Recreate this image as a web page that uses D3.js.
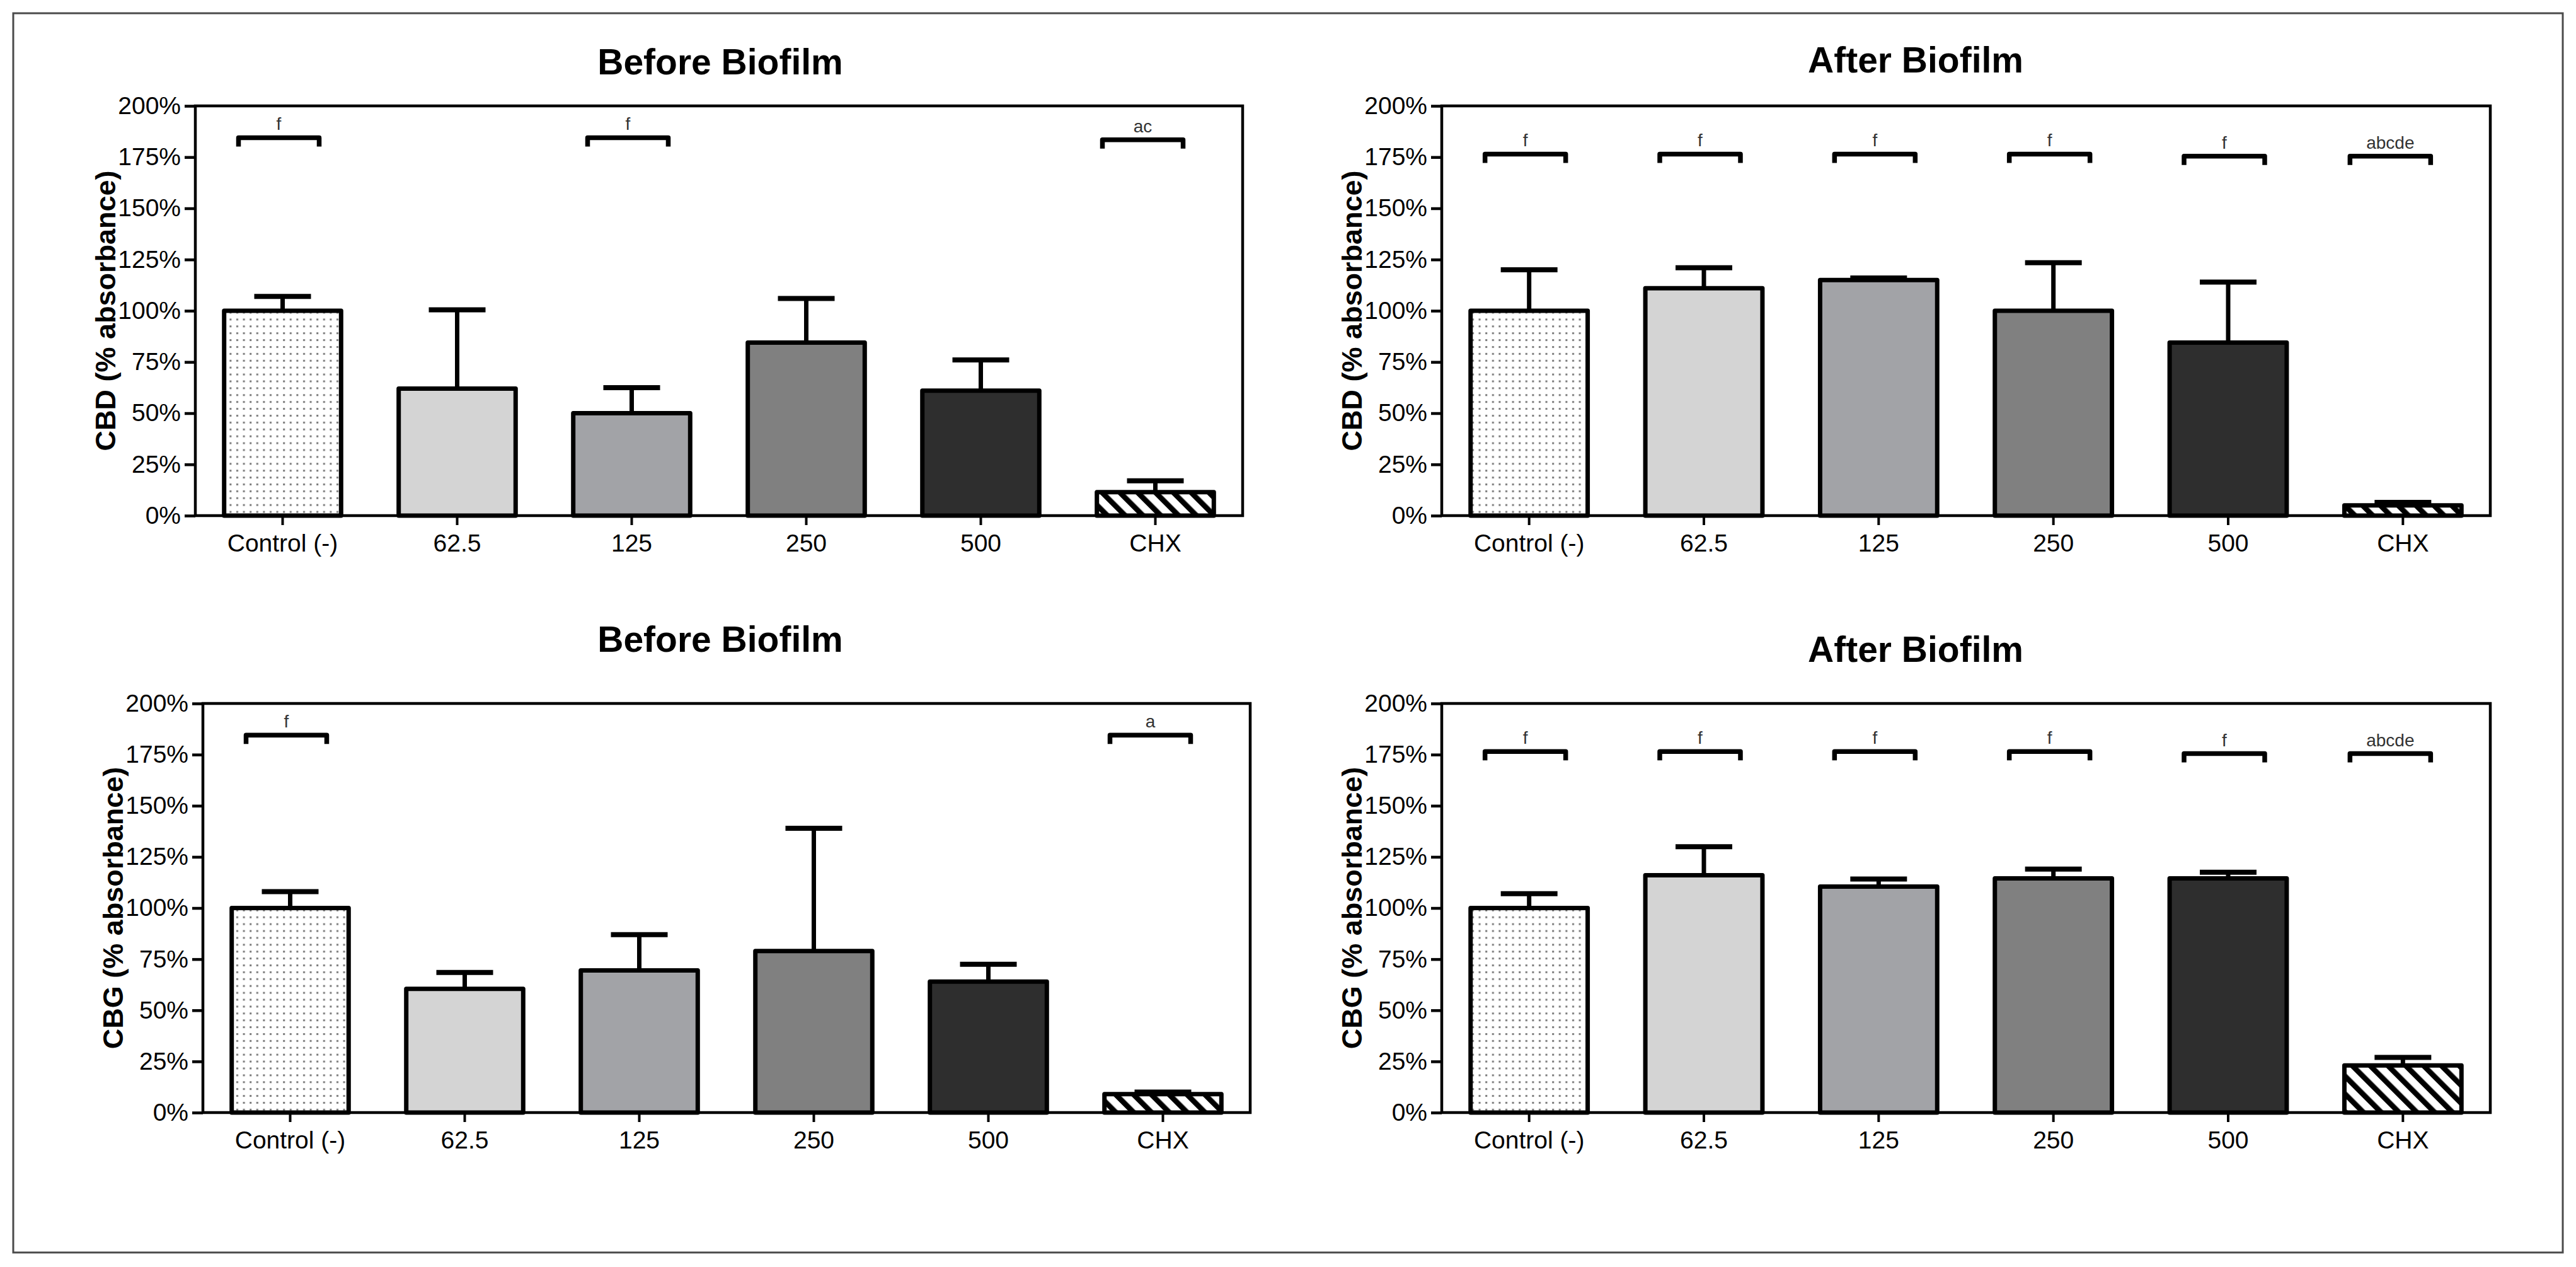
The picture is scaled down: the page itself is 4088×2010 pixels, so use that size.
<!DOCTYPE html>
<html>
<head>
<meta charset="utf-8">
<script src="https://cdn.jsdelivr.net/npm/d3@7"></script>
<style>
  html, body { margin: 0; padding: 0; background: #ffffff; }
  svg { display: block; }
  text { font-family: "Liberation Sans", Arial, Helvetica, sans-serif; }
</style>
</head>
<body>
<svg id="chart" width="4088" height="2010"></svg>
<script>
// ---------------- DATA ----------------
const categories = ["Control (-)", "62.5", "125", "250", "500", "CHX"];
const yTicks = [0, 25, 50, 75, 100, 125, 150, 175, 200];

const cbdBeforeMean = [100, 62, 50, 84.5, 61, 11.5];
const cbdBeforeSd   = [7, 38.5, 12.5, 21.5, 15, 5.5];

const cbdAfterMean  = [100, 111, 115, 100, 84.5, 5];
const cbdAfterSd    = [20, 10, 1, 23.5, 29.5, 1.5];

const cbgBeforeMean = [100, 60.5, 69.5, 79, 64, 9];
const cbgBeforeSd   = [8, 8, 17.5, 60, 8.5, 1];

const cbgAfterMean  = [100, 116, 110.5, 114.5, 114.5, 23];
const cbgAfterSd    = [7, 14, 3.7, 4.5, 3, 4];

// significance annotations: category, letters, bracket level (%)
const cbdBeforeSig = [["Control (-)", "f", 184.5], ["125", "f", 184.5], ["CHX", "ac", 183.5]];
const cbdAfterSig  = [["Control (-)", "f", 176.5], ["62.5", "f", 176.5], ["125", "f", 176.5],
                      ["250", "f", 176.5], ["500", "f", 175.5], ["CHX", "abcde", 175.5]];
const cbgBeforeSig = [["Control (-)", "f", 184.5], ["CHX", "a", 184.5]];
const cbgAfterSig  = [["Control (-)", "f", 176.5], ["62.5", "f", 176.5], ["125", "f", 176.5],
                      ["250", "f", 176.5], ["500", "f", 175.5], ["CHX", "abcde", 175.5]];

const titles = ["Before Biofilm", "After Biofilm", "Before Biofilm", "After Biofilm"];
const yLabels = ["CBD (% absorbance)", "CBD (% absorbance)", "CBG (% absorbance)", "CBG (% absorbance)"];

// ---------------- LAYOUT ----------------
const panels = [
  { mean: cbdBeforeMean, sd: cbdBeforeSd, sig: cbdBeforeSig, left: 310,  right: 1972, top: 168,  bottom: 818,  tx: 1143, ty: 118 },
  { mean: cbdAfterMean,  sd: cbdAfterSd,  sig: cbdAfterSig,  left: 2288, right: 3952, top: 168,  bottom: 818,  tx: 3040, ty: 115 },
  { mean: cbgBeforeMean, sd: cbgBeforeSd, sig: cbgBeforeSig, left: 322,  right: 1984, top: 1116, bottom: 1765, tx: 1143, ty: 1034 },
  { mean: cbgAfterMean,  sd: cbgAfterSd,  sig: cbgAfterSig,  left: 2288, right: 3952, top: 1116, bottom: 1765, tx: 3040, ty: 1050 }
];

const fills = ["url(#dots)", "#d4d4d4", "#a2a3a7", "#808080", "#2e2e2e", "url(#hatch)"];

const svg = d3.select("#chart");

// patterns
const defs = svg.append("defs");
const dots = defs.append("pattern").attr("id", "dots")
  .attr("patternUnits", "userSpaceOnUse").attr("width", 10.6).attr("height", 10.9);
dots.append("rect").attr("width", 10.6).attr("height", 10.9).attr("fill", "#ffffff");
dots.append("rect").attr("x", 4).attr("y", 4).attr("width", 3).attr("height", 3).attr("fill", "#7a7a7a");

const hatch = defs.append("pattern").attr("id", "hatch")
  .attr("patternUnits", "userSpaceOnUse").attr("width", 20).attr("height", 20)
  .attr("patternTransform", "rotate(-45)");
hatch.append("rect").attr("width", 20).attr("height", 20).attr("fill", "#ffffff");
hatch.append("rect").attr("x", 0).attr("width", 8.5).attr("height", 20).attr("fill", "#000000");

// outer border
svg.append("rect").attr("x", 21).attr("y", 21).attr("width", 4046).attr("height", 1966)
  .attr("fill", "none").attr("stroke", "#4a4a4a").attr("stroke-width", 3);

panels.forEach((p, pi) => {
  const g = svg.append("g");
  const x = d3.scaleBand().domain(categories).range([p.left, p.right])
    .paddingInner(0.33).paddingOuter(0.165);
  const y = d3.scaleLinear().domain([0, 200]).range([p.bottom, p.top]);

  // title
  g.append("text").attr("x", p.tx).attr("y", p.ty).attr("text-anchor", "middle")
    .attr("font-size", 57).attr("font-weight", "bold").attr("fill", "#000").text(titles[pi]);

  // y label
  g.append("text")
    .attr("transform", `translate(${p.left - 127},${(p.top + p.bottom) / 2}) rotate(-90)`)
    .attr("text-anchor", "middle").attr("font-size", 45).attr("font-weight", "bold")
    .attr("fill", "#000").text(yLabels[pi]);

  // bars
  g.selectAll("rect.bar").data(categories).enter().append("rect").attr("class", "bar")
    .attr("x", d => x(d)).attr("width", x.bandwidth())
    .attr("y", (d, i) => y(p.mean[i])).attr("height", (d, i) => y(0) - y(p.mean[i]))
    .attr("fill", (d, i) => fills[i]).attr("stroke", "#000").attr("stroke-width", 7)
    .attr("stroke-linejoin", "round");

  // error bars (upper)
  const capW = 90;
  g.selectAll("line.err").data(categories).enter().append("line").attr("class", "err")
    .attr("x1", d => x(d) + x.bandwidth() / 2).attr("x2", d => x(d) + x.bandwidth() / 2)
    .attr("y1", (d, i) => y(p.mean[i])).attr("y2", (d, i) => y(p.mean[i] + p.sd[i]))
    .attr("stroke", "#000").attr("stroke-width", 7);
  g.selectAll("line.cap").data(categories).enter().append("line").attr("class", "cap")
    .attr("x1", d => x(d) + x.bandwidth() / 2 - capW / 2).attr("x2", d => x(d) + x.bandwidth() / 2 + capW / 2)
    .attr("y1", (d, i) => y(p.mean[i] + p.sd[i])).attr("y2", (d, i) => y(p.mean[i] + p.sd[i]))
    .attr("stroke", "#000").attr("stroke-width", 8);

  // frame
  g.append("rect").attr("x", p.left).attr("y", p.top)
    .attr("width", p.right - p.left).attr("height", p.bottom - p.top)
    .attr("fill", "none").attr("stroke", "#000").attr("stroke-width", 4.5);

  // axes
  const yAxis = g.append("g").attr("transform", `translate(${p.left},0)`)
    .call(d3.axisLeft(y).tickValues(yTicks).tickFormat(d => d + "%").tickSize(17).tickSizeOuter(0).tickPadding(6));
  yAxis.select(".domain").remove();
  yAxis.selectAll(".tick line").attr("stroke", "#000").attr("stroke-width", 4.5);
  yAxis.selectAll(".tick text").attr("font-size", 39).attr("fill", "#000")
    .attr("font-family", "'Liberation Sans', Arial, sans-serif");

  const xAxis = g.append("g").attr("transform", `translate(0,${p.bottom})`)
    .call(d3.axisBottom(x).tickSize(15).tickSizeOuter(0).tickPadding(14));
  xAxis.select(".domain").remove();
  xAxis.selectAll(".tick line").attr("stroke", "#000").attr("stroke-width", 4);
  xAxis.selectAll(".tick text").attr("font-size", 39).attr("fill", "#000")
    .attr("font-family", "'Liberation Sans', Arial, sans-serif");

  // significance brackets
  const halfW = 64, leg = 14;
  p.sig.forEach(([cat, lab, lvl]) => {
    const shift = cat === "CHX" ? -20 : -6;
    const cx = x(cat) + x.bandwidth() / 2 + shift;
    const yy = y(lvl);
    g.append("path")
      .attr("d", `M${cx - halfW},${yy + leg} V${yy} H${cx + halfW} V${yy + leg}`)
      .attr("fill", "none").attr("stroke", "#000").attr("stroke-width", 7.5)
      .attr("stroke-linejoin", "round");
    g.append("text").attr("x", cx).attr("y", yy - 12).attr("text-anchor", "middle")
      .attr("font-size", 28).attr("fill", "#333").text(lab);
  });
});
</script>
</body>
</html>
